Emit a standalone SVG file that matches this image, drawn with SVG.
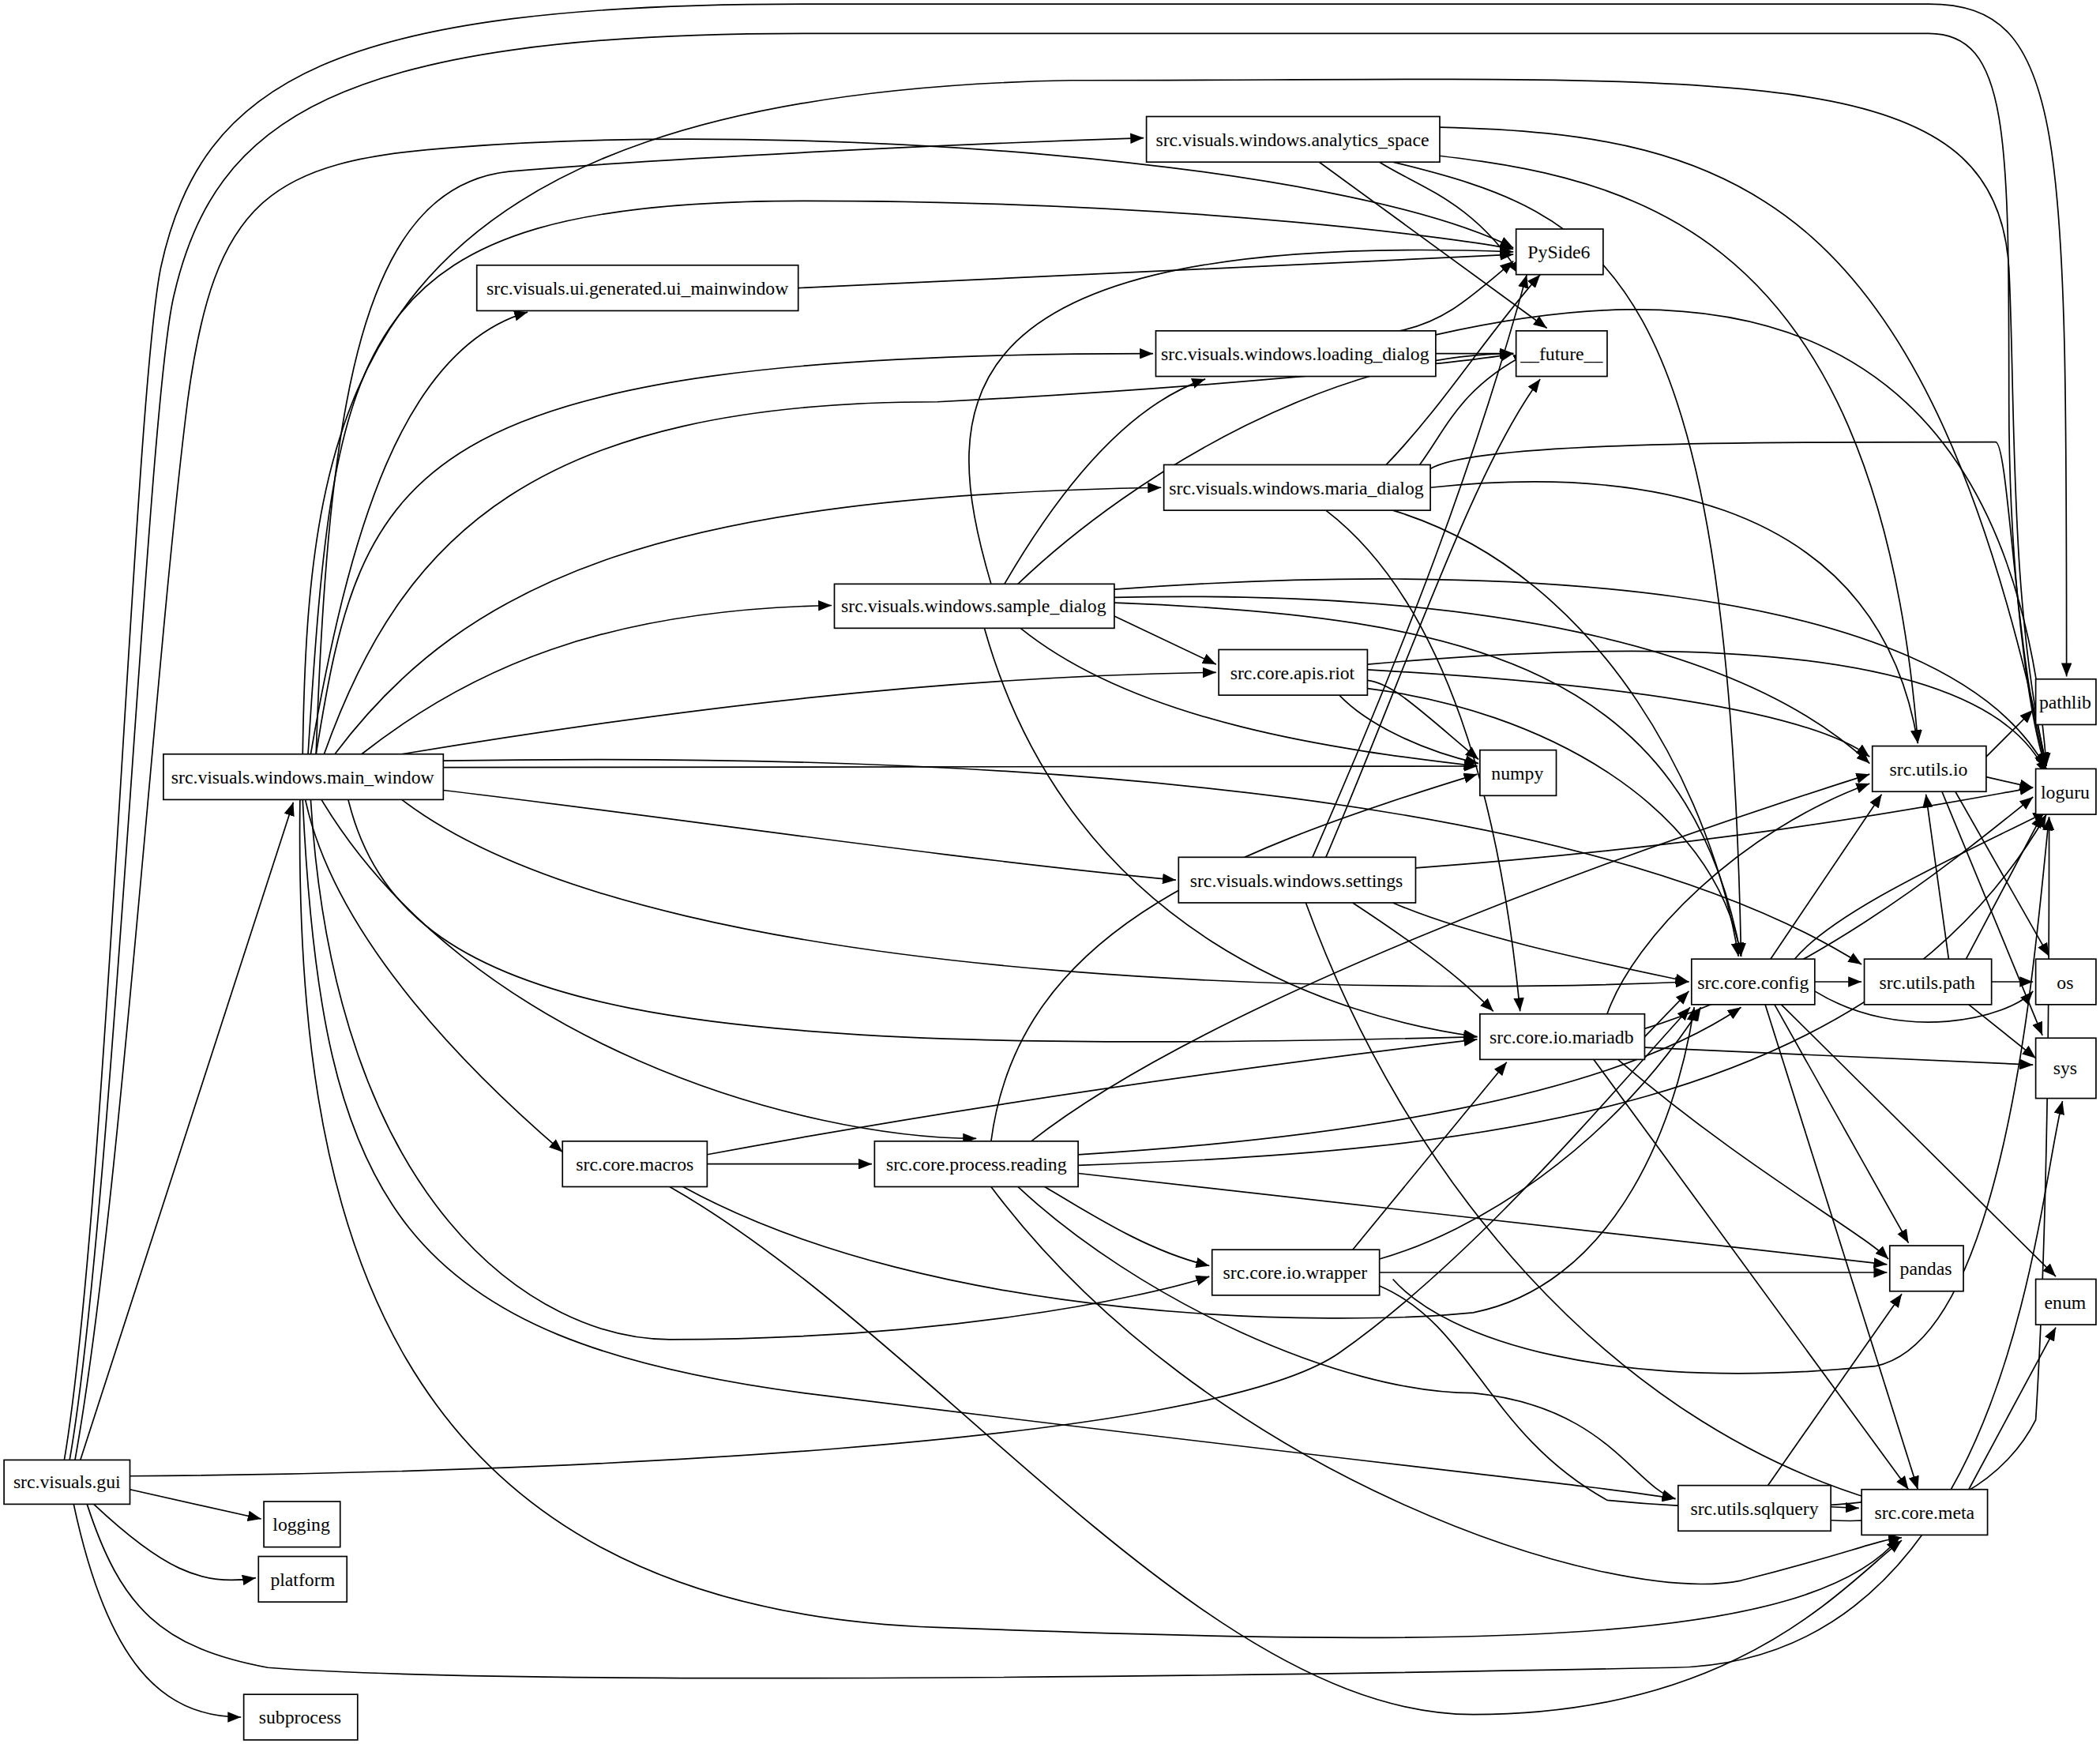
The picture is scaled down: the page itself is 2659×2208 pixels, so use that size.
<svg xmlns="http://www.w3.org/2000/svg" width="2659" height="2208" viewBox="0 0 2659 2208">
<style>
.n rect{fill:#fff;stroke:#000;stroke-width:1}
.n text{font-family:'Liberation Serif',serif;font-size:14px;text-anchor:middle;fill:#000}
#edges path{fill:none;stroke:#000;stroke-width:1;marker-end:url(#a)}
</style>
<defs><marker id="a" markerUnits="userSpaceOnUse" markerWidth="10" markerHeight="8" refX="10" refY="4" orient="auto"><path d="M0,0L10,4L0,8z" fill="#000"/></marker></defs>
<rect width="2659" height="2208" fill="#fff"/>
<g transform="scale(1.6958)" font-family="'Liberation Serif', serif">
<g id="edges">
<path d="M60,1090L219,599"/>
<path d="M48,1090C80,900 100,300 120,200C150,60 250,3 600,3L1440,3C1543,3 1543,100 1543,505"/>
<path d="M52,1090C85,900 110,300 130,220C160,90 250,25 600,25L1440,25C1500,25 1500,100 1500,300C1500,450 1520,560 1528,572"/>
<path d="M56,1090C90,900 115,500 140,300C160,150 200,120 340,110C600,90 1000,120 1130,185"/>
<path d="M97,1102C400,1100 900,1080 1000,1010C1100,940 1200,820 1262,752"/>
<path d="M97,1112L195,1134"/>
<path d="M70,1123C120,1170 150,1185 191,1178"/>
<path d="M65,1123C90,1200 120,1230 200,1245C400,1260 1000,1250 1250,1245C1500,1240 1520,900 1540,822"/>
<path d="M55,1123C80,1240 120,1282 180,1282"/>
<path d="M236,563C245,300 270,140 380,128C500,118 700,108 854,103"/>
<path d="M232,563C260,400 300,260 394,233"/>
<path d="M230,563C250,250 260,150 600,150C900,150 1100,180 1130,186"/>
<path d="M236,563C270,350 300,264 861,264"/>
<path d="M242,563C300,400 400,300 700,300C900,290 1100,270 1130,264"/>
<path d="M250,563C350,430 500,370 867,364"/>
<path d="M270,563C350,500 450,455 621,452"/>
<path d="M300,563C500,530 700,505 908,502"/>
<path d="M331,573L1103,572"/>
<path d="M331,568C800,560 1200,600 1390,720"/>
<path d="M331,590C500,610 700,640 878,657"/>
<path d="M300,597C500,750 1100,740 1261,733"/>
<path d="M260,597C300,760 500,790 1103,774"/>
<path d="M226,563C230,300 260,70 800,60C1300,60 1490,40 1500,200C1505,300 1500,450 1528,572"/>
<path d="M228,597C250,700 350,800 420,860"/>
<path d="M240,597C350,780 600,850 729,850"/>
<path d="M232,597C250,900 400,1000 500,1000C700,1000 850,970 903,953"/>
<path d="M226,597C240,900 300,1000 600,1040C1000,1090 1200,1110 1251,1119"/>
<path d="M224,597C220,900 280,1200 700,1215C1100,1230 1350,1230 1418,1148"/>
<path d="M740,436C700,300 700,172 1130,188"/>
<path d="M750,436C800,350 850,300 900,283"/>
<path d="M760,436C850,350 1000,264 1130,264"/>
<path d="M832,460L908,496"/>
<path d="M762,469C850,540 1000,560 1103,572"/>
<path d="M735,469C800,700 1000,760 1103,774"/>
<path d="M832,450C1100,460 1260,500 1300,714"/>
<path d="M832,446C1100,440 1300,480 1396,570"/>
<path d="M832,440C1100,420 1450,430 1528,574"/>
<path d="M1030,121C1060,140 1100,150 1135,205"/>
<path d="M985,121L1155,245"/>
<path d="M1040,121C1200,160 1290,200 1300,714"/>
<path d="M1045,113C1200,130 1400,150 1432,555"/>
<path d="M1075,95C1300,100 1440,150 1528,572"/>
<path d="M596,215L1130,190"/>
<path d="M1045,247C1080,240 1100,220 1130,195"/>
<path d="M1072,264L1130,264"/>
<path d="M1072,250C1250,210 1500,200 1528,572"/>
<path d="M1035,347C1080,300 1110,250 1150,205"/>
<path d="M1060,347C1080,320 1090,290 1140,264"/>
<path d="M1068,350C1100,330 1300,330 1490,330C1500,330 1505,500 1528,572"/>
<path d="M1068,364C1200,350 1400,360 1432,555"/>
<path d="M1040,381C1200,430 1280,600 1298,714"/>
<path d="M990,381C1080,450 1120,600 1135,755"/>
<path d="M1000,519C1020,540 1060,560 1104,570"/>
<path d="M1021,508C1040,510 1060,530 1104,567"/>
<path d="M1021,514C1150,530 1280,600 1300,714"/>
<path d="M1021,500C1200,510 1350,530 1396,565"/>
<path d="M1021,496C1200,480 1480,470 1528,578"/>
<path d="M980,640C1050,480 1100,350 1140,205"/>
<path d="M990,640C1050,500 1100,350 1150,283"/>
<path d="M1057,648C1300,630 1450,600 1518,588"/>
<path d="M1040,674C1100,700 1200,720 1261,733"/>
<path d="M1010,674C1080,720 1100,740 1115,755"/>
<path d="M975,674C1050,880 1200,1060 1400,1120"/>
<path d="M1322,716L1405,593"/>
<path d="M1355,733L1390,733"/>
<path d="M1340,716C1370,680 1460,640 1528,606"/>
<path d="M1355,740C1420,780 1500,760 1518,740"/>
<path d="M1325,750L1425,928"/>
<path d="M1318,750L1432,1112"/>
<path d="M1330,750L1535,953"/>
<path d="M1228,774L1261,740"/>
<path d="M1200,757C1220,700 1300,620 1396,585"/>
<path d="M1228,768C1350,730 1450,650 1518,595"/>
<path d="M1228,782L1518,795"/>
<path d="M1208,791C1300,870 1390,920 1410,940"/>
<path d="M1190,791L1425,1112"/>
<path d="M1483,565L1518,530"/>
<path d="M1483,580L1518,588"/>
<path d="M1460,591L1530,714"/>
<path d="M1450,591L1525,773"/>
<path d="M1455,716L1438,593"/>
<path d="M1468,716L1525,608"/>
<path d="M1487,733L1518,733"/>
<path d="M1470,750L1520,790"/>
<path d="M528,869L651,869"/>
<path d="M528,862C700,830 900,800 1103,776"/>
<path d="M500,886C700,1000 900,1280 1100,1280C1300,1280 1380,1180 1420,1150"/>
<path d="M510,886C700,990 1000,990 1100,980C1200,960 1250,850 1265,752"/>
<path d="M740,852C760,700 900,640 1103,578"/>
<path d="M770,852C900,750 1200,640 1396,578"/>
<path d="M805,862C1000,850 1200,820 1300,752"/>
<path d="M805,870C1100,860 1400,830 1528,608"/>
<path d="M805,876L1409,944"/>
<path d="M780,886C820,910 860,935 903,945"/>
<path d="M760,886C850,970 1000,1040 1100,1040C1200,1050 1220,1110 1251,1119"/>
<path d="M740,886C900,1100 1200,1200 1300,1180C1380,1160 1400,1150 1420,1148"/>
<path d="M1010,933L1125,793"/>
<path d="M1030,940C1100,920 1200,860 1270,752"/>
<path d="M1030,950L1409,950"/>
<path d="M1040,955C1080,1000 1200,1040 1400,1020C1500,1000 1520,700 1530,610"/>
<path d="M1030,960C1100,990 1110,1070 1200,1120C1300,1130 1400,1125 1420,1115"/>
<path d="M1367,1125L1388,1126"/>
<path d="M1320,1109L1420,966"/>
<path d="M1367,1135C1450,1140 1500,1100 1520,1060C1530,900 1530,700 1530,610"/>
<path d="M1470,1112L1535,991"/>
</g>
<g id="gui" class="n"><rect x="3" y="1090" width="94" height="33"/><text x="50" y="1111">src.visuals.gui</text></g>
<g id="logging" class="n"><rect x="197" y="1121" width="57" height="34"/><text x="225" y="1143">logging</text></g>
<g id="platform" class="n"><rect x="193" y="1162" width="66" height="34"/><text x="226" y="1184">platform</text></g>
<g id="subprocess" class="n"><rect x="182" y="1265" width="85" height="34"/><text x="224" y="1287">subprocess</text></g>
<g id="main_window" class="n"><rect x="122" y="563" width="209" height="34"/><text x="226" y="585">src.visuals.windows.main_window</text></g>
<g id="analytics_space" class="n"><rect x="856" y="87" width="219" height="34"/><text x="965" y="109">src.visuals.windows.analytics_space</text></g>
<g id="ui_mainwindow" class="n"><rect x="356" y="198" width="240" height="34"/><text x="476" y="220">src.visuals.ui.generated.ui_mainwindow</text></g>
<g id="PySide6" class="n"><rect x="1132" y="171" width="65" height="34"/><text x="1164" y="193">PySide6</text></g>
<g id="loading_dialog" class="n"><rect x="863" y="247" width="209" height="34"/><text x="967" y="269">src.visuals.windows.loading_dialog</text></g>
<g id="future" class="n"><rect x="1132" y="247" width="68" height="34"/><text x="1166" y="269">__future__</text></g>
<g id="maria_dialog" class="n"><rect x="869" y="347" width="199" height="34"/><text x="968" y="369">src.visuals.windows.maria_dialog</text></g>
<g id="sample_dialog" class="n"><rect x="623" y="436" width="209" height="33"/><text x="727" y="457">src.visuals.windows.sample_dialog</text></g>
<g id="riot" class="n"><rect x="910" y="485" width="111" height="34"/><text x="965" y="507">src.core.apis.riot</text></g>
<g id="numpy" class="n"><rect x="1105" y="560" width="57" height="34"/><text x="1133" y="582">numpy</text></g>
<g id="pathlib" class="n"><rect x="1520" y="507" width="45" height="34"/><text x="1542" y="529">pathlib</text></g>
<g id="utils_io" class="n"><rect x="1398" y="557" width="85" height="34"/><text x="1440" y="579">src.utils.io</text></g>
<g id="loguru" class="n"><rect x="1520" y="574" width="45" height="34"/><text x="1542" y="596">loguru</text></g>
<g id="settings" class="n"><rect x="880" y="640" width="177" height="34"/><text x="968" y="662">src.visuals.windows.settings</text></g>
<g id="config" class="n"><rect x="1263" y="716" width="92" height="34"/><text x="1309" y="738">src.core.config</text></g>
<g id="utils_path" class="n"><rect x="1392" y="716" width="95" height="34"/><text x="1439" y="738">src.utils.path</text></g>
<g id="os" class="n"><rect x="1520" y="716" width="45" height="34"/><text x="1542" y="738">os</text></g>
<g id="mariadb" class="n"><rect x="1105" y="757" width="123" height="34"/><text x="1166" y="779">src.core.io.mariadb</text></g>
<g id="sys" class="n"><rect x="1520" y="775" width="45" height="45"/><text x="1542" y="802">sys</text></g>
<g id="macros" class="n"><rect x="420" y="852" width="108" height="34"/><text x="474" y="874">src.core.macros</text></g>
<g id="reading" class="n"><rect x="653" y="852" width="152" height="34"/><text x="729" y="874">src.core.process.reading</text></g>
<g id="wrapper" class="n"><rect x="905" y="933" width="125" height="34"/><text x="967" y="955">src.core.io.wrapper</text></g>
<g id="pandas" class="n"><rect x="1411" y="930" width="55" height="34"/><text x="1438" y="952">pandas</text></g>
<g id="enum" class="n"><rect x="1520" y="955" width="45" height="34"/><text x="1542" y="977">enum</text></g>
<g id="meta" class="n"><rect x="1390" y="1112" width="94" height="34"/><text x="1437" y="1134">src.core.meta</text></g>
<g id="sqlquery" class="n"><rect x="1253" y="1109" width="114" height="34"/><text x="1310" y="1131">src.utils.sqlquery</text></g>
</g>
</svg>
